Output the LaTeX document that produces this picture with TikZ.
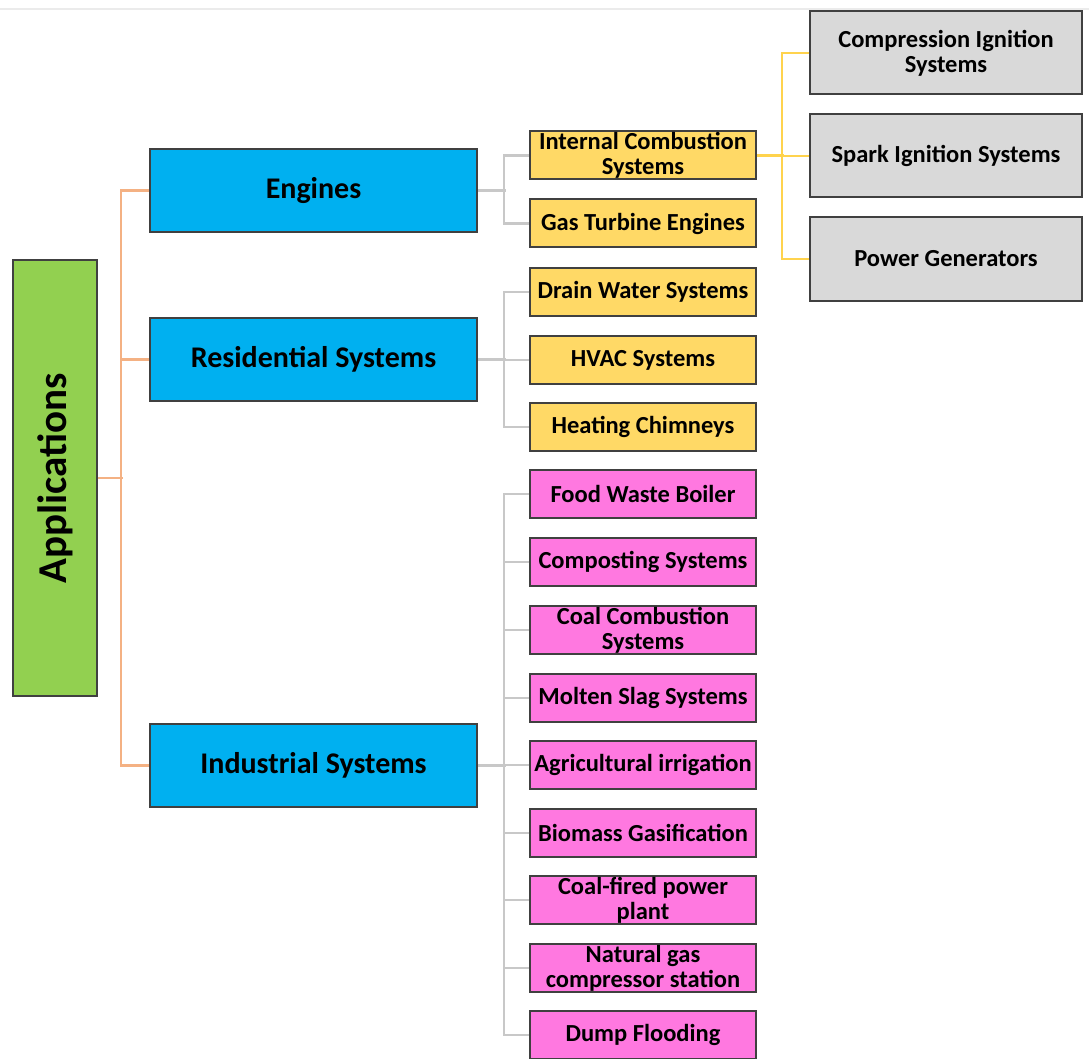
\documentclass[tikz,border=0pt]{standalone}
\usepackage{fontspec}
\setmainfont{Carlito}
\usepackage{tikz}

\definecolor{appgreen}{HTML}{92D050}
\definecolor{catblue}{HTML}{00B0F0}
\definecolor{subyellow}{HTML}{FFD966}
\definecolor{submagenta}{HTML}{FF78E0}
\definecolor{leafgray}{HTML}{D9D9D9}
\definecolor{edgeorange}{HTML}{F4B183}
\definecolor{edgegray}{HTML}{C8C8C8}
\definecolor{edgeyellow}{HTML}{FFD34D}
\definecolor{boxline}{HTML}{404040}

\begin{document}
\begin{tikzpicture}[x=1pt,y=-1pt]
\tikzstyle{every node}+=[inner sep=0pt, align=center, font=\bfseries]
\tikzstyle{box}=[draw=boxline, line width=2pt, rectangle]
\tikzstyle{rootbox}=[box, fill=appgreen, minimum width=84pt, minimum height=436pt]
\tikzstyle{catbox}=[box, fill=catblue, minimum width=327pt, minimum height=83pt, font=\fontsize{30}{34}\selectfont\bfseries]
\tikzstyle{sub}=[box, minimum width=226pt, minimum height=48pt, font=\fontsize{24.5}{25}\selectfont\bfseries]
\tikzstyle{subyel}=[sub, fill=subyellow]
\tikzstyle{submag}=[sub, fill=submagenta]
\tikzstyle{leaf}=[box, fill=leafgray, minimum width=272pt, minimum height=83pt, font=\fontsize{24.5}{25}\selectfont\bfseries]
\tikzstyle{orangeline}=[edgeorange, line width=2.2pt]
\tikzstyle{grayline}=[edgegray, line width=2.5pt]
\tikzstyle{yellowline}=[edgeyellow, line width=2.2pt]
\useasboundingbox (0,0) rectangle (1089,1059);
\draw [black!8, line width=2pt] (0,9) -- (1089,9);
\node [rootbox] (app) at (55,478) {};
\node [rotate=90, font=\fontsize{41}{45}\selectfont\bfseries] (applabel) at (app.center) {Applications};
\node [catbox] (eng) at (313.5,190.5) {Engines};
\node [catbox] (res) at (313.5,359.5) {Residential Systems};
\node [catbox] (ind) at (313.5,765.5) {Industrial Systems};
\node [subyel] (ice) at (643,155.5) {Internal Combustion\\Systems};
\node [subyel] (gte) at (643,223.5) {Gas Turbine Engines};
\node [subyel] (dws) at (643,292) {Drain Water Systems};
\node [subyel] (hvac) at (643,360) {HVAC Systems};
\node [subyel] (hch) at (643,427) {Heating Chimneys};
\node [submag] (fwb) at (643,494) {Food Waste Boiler};
\node [submag] (cps) at (643,562) {Composting Systems};
\node [submag] (ccs) at (643,630) {Coal Combustion\\Systems};
\node [submag] (mss) at (643,698) {Molten Slag Systems};
\node [submag] (agi) at (643,765) {Agricultural irrigation};
\node [submag] (bmg) at (643,833) {Biomass Gasification};
\node [submag] (cfp) at (643,900) {Coal-fired power\\plant};
\node [submag] (ngc) at (643,968) {Natural gas\\compressor station};
\node [submag] (dfl) at (643,1035) {Dump Flooding};
\node [leaf] (cis) at (946,53) {Compression Ignition\\Systems};
\node [leaf] (sis) at (946,156) {Spark Ignition Systems};
\node [leaf] (pgn) at (946,259) {Power Generators};
\draw [orangeline] (app.east) -- ++(25,0);
\draw [orangeline] (eng.west) -- ++(-28,0) |- (ind.west);
\draw [orangeline] (res.west) -- ++(-28,0);
\draw [grayline] (eng.east) -- ++(28,0);
\draw [grayline] (ice.west) -- ++(-25,0) |- (gte.west);
\draw [grayline] (res.east) -- ++(28,0);
\draw [grayline] (dws.west) -- ++(-25,0) |- (hch.west);
\draw [grayline] (hvac.west) -- ++(-25,0);
\draw [grayline] (ind.east) -- ++(28,0);
\draw [grayline] (fwb.west) -- ++(-25,0) |- (dfl.west);
\foreach \n in {cps,ccs,mss,agi,bmg,cfp,ngc}
  \draw [grayline] (\n.west) -- ++(-25,0);
\draw [yellowline] (ice.east) -- ++(27,0);
\draw [yellowline] (cis.west) -- ++(-27,0) |- (pgn.west);
\draw [yellowline] (sis.west) -- ++(-27,0);
\end{tikzpicture}
\end{document}
